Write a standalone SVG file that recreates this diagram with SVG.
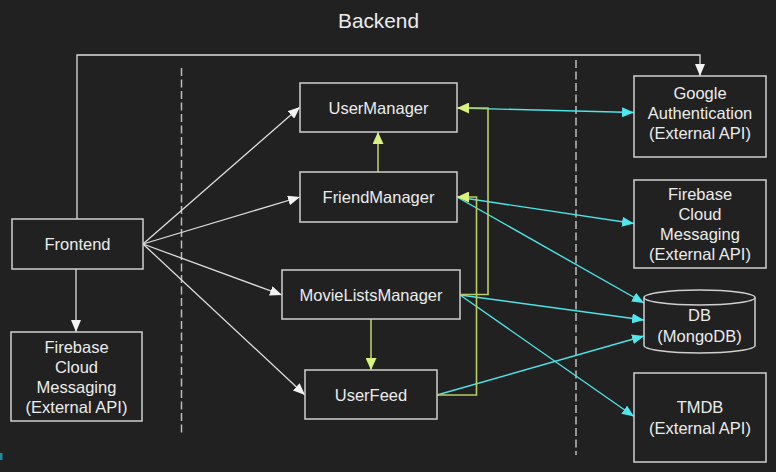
<svg xmlns="http://www.w3.org/2000/svg" width="776" height="472" viewBox="0 0 776 472">
<defs>
<style>
.box{fill:#212121;stroke:#cfcfcf;stroke-width:1.5}
.t{font-family:"Liberation Sans",Arial,sans-serif;font-size:16.5px;fill:#ececec;text-anchor:middle;dominant-baseline:central}
.w{fill:none;stroke:#dedede;stroke-width:1.3}
.g{fill:none;stroke:#b9cc6a;stroke-width:1.6}
.c{fill:none;stroke:#4fe3e6;stroke-width:1.4}
.d{stroke:#bdbdbd;stroke-width:1.5;stroke-dasharray:8,3.5}
</style>
<marker id="aw" markerWidth="13" markerHeight="10" refX="12" refY="5" orient="auto" markerUnits="userSpaceOnUse"><path d="M0,0 L12,5 L0,10 Z" fill="#f2f2f2"/></marker>
<marker id="ag" markerWidth="13" markerHeight="11" refX="12" refY="5.5" orient="auto" markerUnits="userSpaceOnUse"><path d="M0,0 L12,5.5 L0,11 Z" fill="#d8f27c"/></marker>
<marker id="ac" markerWidth="13" markerHeight="10" refX="12" refY="5" orient="auto" markerUnits="userSpaceOnUse"><path d="M0,0 L12,5 L0,10 Z" fill="#4fe6ee"/></marker>
</defs>
<rect width="776" height="472" fill="#212121"/>
<rect x="0" y="453" width="2.5" height="7" fill="#1f8d9c"/>
<text class="t" x="378.5" y="20" style="font-size:20.8px">Backend</text>
<line class="d" x1="181.5" y1="68" x2="181.5" y2="435"/>
<line class="d" x1="576" y1="60" x2="576" y2="455"/>
<g id="connectors">
<path class="w" d="M77,219 V55 H700 V76" marker-end="url(#aw)"/>
<path class="w" d="M76,269 V332" marker-end="url(#aw)"/>
<path class="w" d="M143,244 L300,107" marker-end="url(#aw)"/>
<path class="w" d="M143,244 L300,197" marker-end="url(#aw)"/>
<path class="w" d="M143,244 L282,295" marker-end="url(#aw)"/>
<path class="w" d="M143,244 L305,395" marker-end="url(#aw)"/>
<path class="c" d="M457,108 L634,112.5" marker-end="url(#ac)"/>
<path class="c" d="M457,197 L634,223.5" marker-end="url(#ac)"/>
<path class="c" d="M457,197 L644,303" marker-end="url(#ac)"/>
<path class="c" d="M460,295 L644,320" marker-end="url(#ac)"/>
<path class="c" d="M460,295 L634,416.5" marker-end="url(#ac)"/>
<path class="c" d="M437,395 L644,336" marker-end="url(#ac)"/>
<path class="g" d="M378,172 V132" marker-end="url(#ag)"/>
<path class="g" d="M371,319 V370" marker-end="url(#ag)"/>
<path class="g" d="M460,294.5 H488 V108 H457" marker-end="url(#ag)"/>
<path class="g" d="M437,395 H476.5 V197 H457" marker-end="url(#ag)"/>
</g>
<g id="frontend"><rect class="box" x="12" y="219" width="131" height="50"/><text class="t" x="77.5" y="244">Frontend</text></g>
<g id="firebase-left"><rect class="box" x="11" y="332" width="131" height="89"/>
<text class="t" x="76.5" y="347">Firebase</text><text class="t" x="76.5" y="367">Cloud</text><text class="t" x="76.5" y="387">Messaging</text><text class="t" x="76.5" y="407">(External API)</text></g>
<g id="usermanager"><rect class="box" x="300" y="83" width="157" height="49"/><text class="t" x="378.5" y="107.5">UserManager</text></g>
<g id="friendmanager"><rect class="box" x="300" y="172" width="157" height="50"/><text class="t" x="378.5" y="197">FriendManager</text></g>
<g id="movielistsmanager"><rect class="box" x="282" y="270" width="178" height="49"/><text class="t" x="371" y="295">MovieListsManager</text></g>
<g id="userfeed"><rect class="box" x="305" y="370" width="132" height="49"/><text class="t" x="371" y="395">UserFeed</text></g>
<g id="google"><rect class="box" x="634" y="76" width="132" height="81"/>
<text class="t" x="700" y="93">Google</text><text class="t" x="700" y="113">Authentication</text><text class="t" x="700" y="133">(External API)</text></g>
<g id="firebase-right"><rect class="box" x="634" y="180" width="132" height="88"/>
<text class="t" x="700" y="194">Firebase</text><text class="t" x="700" y="214">Cloud</text><text class="t" x="700" y="234">Messaging</text><text class="t" x="700" y="254">(External API)</text></g>
<g id="db"><path class="box" d="M644,297.5 V345.5 A55.5,7.5 0 0 0 755,345.5 V297.5 A55.5,7.5 0 0 0 644,297.5 Z"/><path class="box" style="fill:none" d="M644,297.5 A55.5,7.5 0 0 0 755,297.5"/>
<text class="t" x="699.5" y="315">DB</text><text class="t" x="699.5" y="336">(MongoDB)</text></g>
<g id="tmdb"><rect class="box" x="634" y="373" width="132" height="89"/>
<text class="t" x="700" y="407">TMDB</text><text class="t" x="700" y="428">(External API)</text></g>
</svg>
